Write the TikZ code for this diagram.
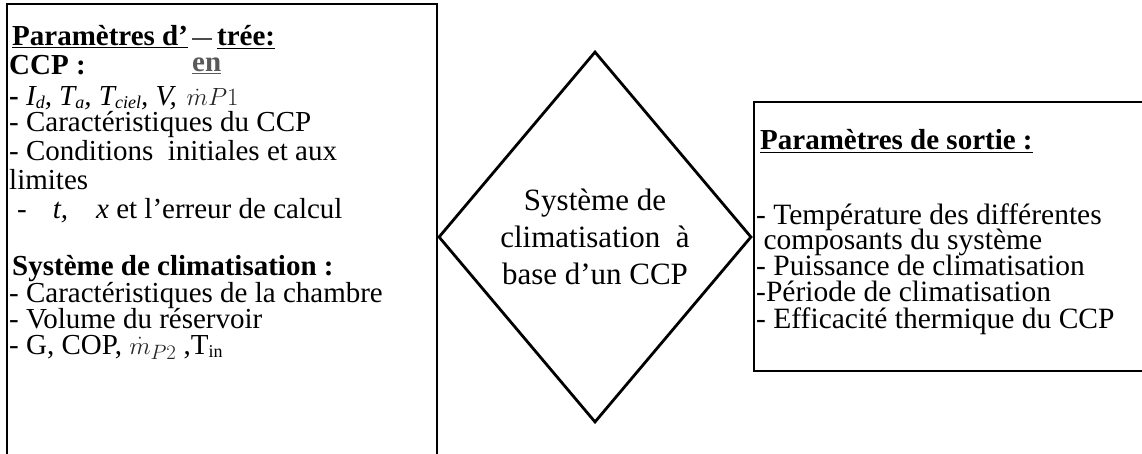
\documentclass[tikz,border=0pt]{standalone}
\usepackage{fontspec}
\setmainfont{Liberation Serif}
\usetikzlibrary{shapes.geometric}
% small lowered index used in the parameter lists
\newcommand\idx[1]{\raisebox{-3pt}{\fontsize{18}{18}\selectfont #1}}

\begin{document}
\begin{tikzpicture}[x=1pt,y=-1pt,
  txt/.style={anchor=base west, inner sep=0pt, font=\fontsize{29}{31}\selectfont},
  rtxt/.style={txt, font=\fontsize{29.5}{31}\selectfont},
  hd/.style={txt, font=\fontsize{29}{31}\selectfont\bfseries},
  frame/.style={draw=black, line width=1.8pt, rectangle, inner sep=0pt, anchor=north west},
  faint/.style={text=black!65},
]
\useasboundingbox (0,0) rectangle (1142,454);
\clip (0,0) rectangle (1142,454);

% input panel (open at the bottom of the page)
\node[frame, minimum width=430pt, minimum height=520pt] (inbox) at (6,3) {};
% output panel (runs off the right edge)
\node[frame, minimum width=420pt, minimum height=269pt] (outbox) at (753,101) {};
% central process
\node[diamond, draw=black, line width=2.8pt, minimum width=313pt, minimum height=371pt,
      inner sep=0pt, align=center, font=\fontsize{31}{37}\selectfont] (sys) at (595,237)
      {Système de\\climatisation~ à\\base d’un CCP};

% --- input parameters ---
\node[hd] (inTitleA) at (12,46) {\underline{Paramètres d'}};
\node[hd] (inTitleB) at (217,46) {\underline{trée:}};
\node[hd, faint] (inTitleEn) at (192,72) {\underline{en}};
\draw[line width=2pt, black!70] (192,39) -- (212,39);
\node[hd] (ccp) at (9,75) {CCP :};
\node[txt] (l1) at (9,106) {\textbf{-} \textit{I\idx{d}, T\idx{a}, T\idx{ciel}, V,}\hspace{10pt}%
  {\fontsize{27}{27}\selectfont\color{black!85}$\dot{m}P1$}};
\node[txt] (l2) at (9,132) {- Caractéristiques du CCP};
\node[txt] (l3) at (9,161) {- Conditions~ initiales et aux};
\node[txt] (l4) at (9,190) {limites};
\node[txt] (l5) at (17,219) {-\hspace{26pt}\textit{t,}\hspace{28pt}\textit{x} et l’erreur de calcul};
\node[hd] (clim) at (12,276) {Système de climatisation :};
\node[txt] (l6) at (9,302) {- Caractéristiques de la chambre};
\node[txt] (l7) at (9,328) {- Volume du réservoir};
\node[txt] (l8) at (9,354) {- G, COP, {\fontsize{30}{30}\selectfont\color{black!85}$\dot{m}_{P2}$} ,T\idx{in}};

% --- output parameters ---
\node[hd] (outTitle) at (760,150) {\underline{Paramètres de sortie :}};
\node[rtxt] (r1) at (756,225) {- Température des différentes};
\node[rtxt] (r2) at (756,250) {~composants du système};
\node[rtxt] (r3) at (756,275) {- Puissance de climatisation};
\node[rtxt] (r4) at (756,301) {-Période de climatisation};
\node[rtxt] (r5) at (756,328) {- Efficacité thermique du CCP};
\end{tikzpicture}
\end{document}
